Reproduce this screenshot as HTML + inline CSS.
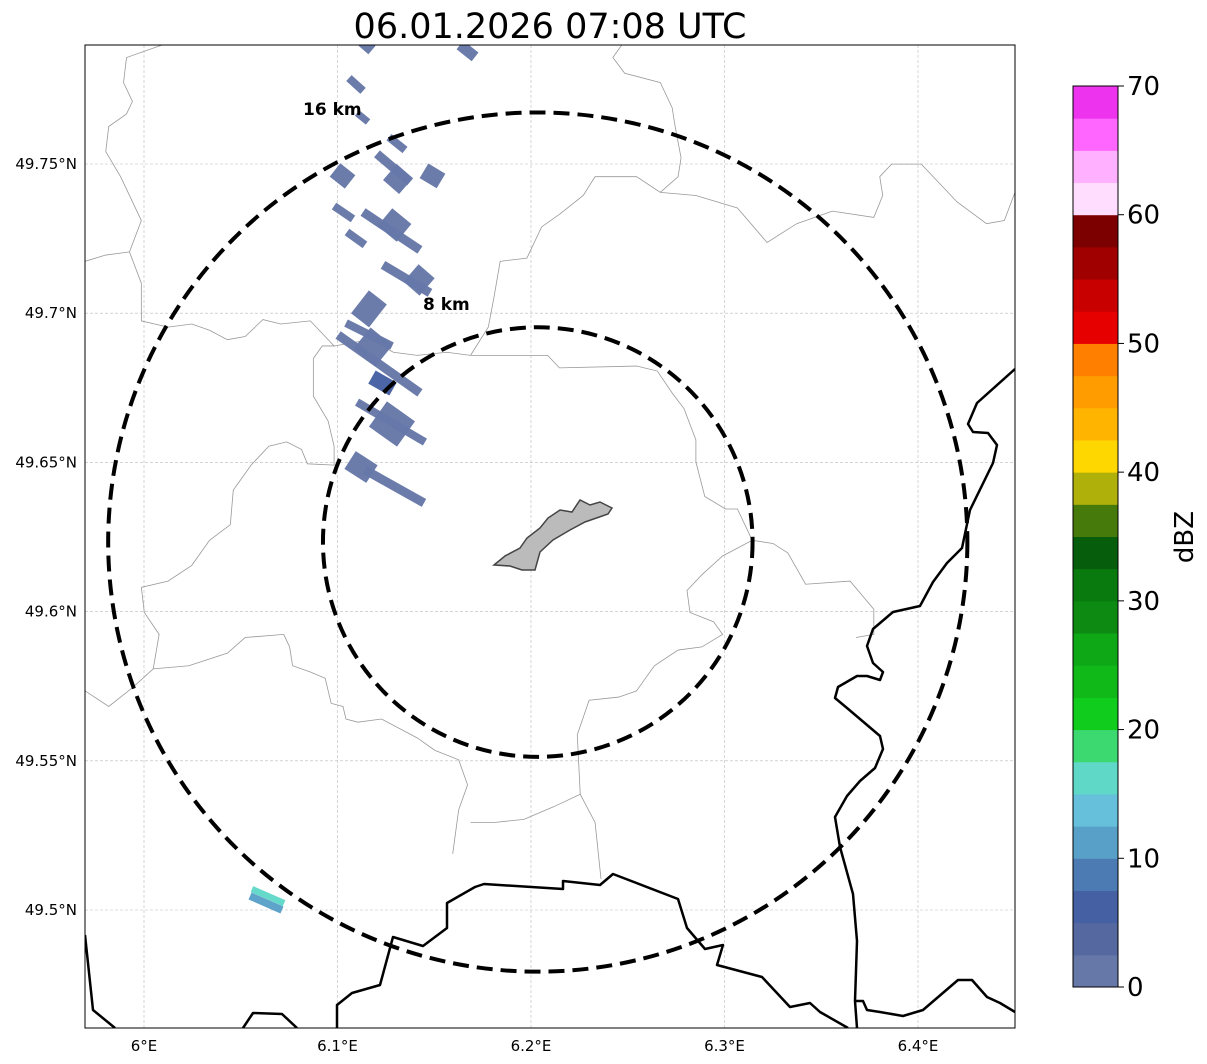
<!DOCTYPE html>
<html><head><meta charset="utf-8"><style>
html,body{margin:0;padding:0;background:#fff;width:1207px;height:1064px;overflow:hidden}
svg text{font-family:"DejaVu Sans","Liberation Sans",sans-serif}
</style></head><body>
<svg id="chart" width="1207" height="1064" xmlns="http://www.w3.org/2000/svg">
<text x="550" y="38" font-size="35" text-anchor="middle">06.01.2026 07:08 UTC</text>
<defs><clipPath id="mapclip"><rect x="85" y="45" width="930" height="983"/></clipPath></defs>
<g id="grid"></g>
<g clip-path="url(#mapclip)">
<g transform="translate(85,45) scale(0.5931,0.627)" fill="none" stroke="#999" stroke-width="0.8">
<path vector-effect="non-scaling-stroke" d="M130,0 L70,20 L65,60 L80,90 L70,110 L40,130 L35,170 L60,210 L95,280 L75,330 L35,335 L0,345"/>
<path vector-effect="non-scaling-stroke" d="M75,330 L95,380 L95,440 L140,450 L180,445 L210,455 L240,470 L270,465 L300,438 L330,445 L380,440 L420,480 L400,480 L385,500 L385,560 L410,600 L420,640 L420,670 L375,668 L365,645 L340,633 L310,640 L280,670 L250,710 L245,765 L210,790 L180,830 L140,855 L95,865 L100,905 L125,940 L115,995 L80,1025 L40,1055 L0,1030"/>
<path vector-effect="non-scaling-stroke" d="M115,995 L175,990 L240,970 L270,945 L335,940 L345,960 L350,990 L380,1000 L405,1010 L415,1050 L435,1055 L440,1075 L460,1080 L500,1075 L560,1105 L590,1125 L630,1140 L645,1180 L630,1220 L620,1290"/>
<path vector-effect="non-scaling-stroke" d="M650,1240 L690,1240 L740,1235 L790,1215 L835,1195 L860,1240 L870,1330"/>
<path vector-effect="non-scaling-stroke" d="M835,1195 L830,1100 L850,1045 L900,1040 L930,1030 L960,990 L1000,965 L1040,960 L1075,940 L1060,920 L1020,905 L1015,870 L1040,845 L1075,815 L1125,790 L1160,795 L1185,810 L1215,860 L1290,855 L1330,900 L1330,940 L1300,945"/>
<path vector-effect="non-scaling-stroke" d="M1125,790 L1100,740 L1080,740 L1045,720 L1030,665 L1030,630 L1010,580 L990,555 L965,520 L930,512 L800,515 L780,495 L740,495 L650,495 L610,490 L560,495 L520,490 L480,470 L420,480"/>
<path vector-effect="non-scaling-stroke" d="M650,495 L680,450 L690,400 L700,345 L745,340 L770,290 L800,270 L840,240 L860,210 L930,210 L970,235 L1030,240 L1100,260 L1150,315 L1200,285 L1260,265 L1330,275 L1345,240 L1340,210 L1360,190 L1410,190 L1470,250 L1520,285 L1550,280 L1568,235"/>
<path vector-effect="non-scaling-stroke" d="M970,235 L1000,210 L1005,180 L995,130 L990,100 L970,60 L910,45 L890,20 L905,0"/>
</g>
</g>
<g clip-path="url(#mapclip)" fill="none" stroke="#000" stroke-width="2.5" stroke-linejoin="round">
<path d="M85,935 L93,1010 L115,1028"/>
<path d="M243,1028 L253,1013 L282,1014 L297,1028"/>
<path d="M337,1028 L337,1005 L352,993 L380,985 L393,937 L423,946 L447,928 L447,903 L475,887 L484,884 L563,889 L563,881 L600,885 L613,874 L678,899 L687,928 L705,949 L723,945 L717,965 L762,977 L790,1007 L810,1003 L820,1012 L848,1028"/>
<path d="M1015,369 L977,403 L968,424 L973,432 L988,433 L997,445 L993,463 L970,510 L962,548 L947,563 L933,582 L920,606 L893,612 L873,629 L867,646 L873,663 L883,672 L880,680 L867,676 L857,676 L838,687 L835,698 L847,708 L880,736 L883,749 L875,768 L860,781 L847,796 L835,817 L840,847 L853,894 L857,941 L855,1001 L857,1028"/>
<path d="M855,1001 L863,1001 L867,1010 L880,1012 L903,1016 L923,1010 L958,980 L972,980 L987,997 L1000,1003 L1015,1012"/>
</g>
<g id="cells" clip-path="url(#mapclip)"></g>
<path d="M494,565 L505,556 L520,548 L527,538 L540,528 L548,518 L560,510 L572,512 L580,500 L590,505 L600,502 L612,508 L608,514 L585,522 L570,530 L553,540 L540,552 L535,570 L522,570 L510,566 Z" fill="#bbb" stroke="#444" stroke-width="1.5"/>
<g id="rings"></g>
<text x="303" y="115" font-size="17" font-weight="bold">16 km</text>
<text x="423" y="310" font-size="17" font-weight="bold">8 km</text>
<rect x="85" y="45" width="930" height="983" fill="none" stroke="#000" stroke-width="1"/>
<g id="axes"></g>
<g id="cbar"></g>
<text transform="translate(1193,537) rotate(-90)" font-size="26" text-anchor="middle">dBZ</text>
</svg>
<script>
const lonTicks=[6.0,6.1,6.2,6.3,6.4];
const lonTickLabels=["6°E","6.1°E","6.2°E","6.3°E","6.4°E"];
const latTicks=[49.75,49.7,49.65,49.6,49.55,49.5];
const latTickLabels=["49.75°N","49.7°N","49.65°N","49.6°N","49.55°N","49.5°N"];
const cellLon1=[6.1106,6.1633,6.1059,6.1101,6.1266,6.0987,6.1204,6.1271,6.1447,6.0982,6.1132,6.1245,6.1049,6.1235,6.1380,6.1116,6.1044,6.1003,6.1127,6.1178,6.1101,6.1209,6.1065,6.1142,6.0558,6.0548];
const cellLat1=[49.7922,49.7899,49.7788,49.7671,49.7590,49.7480,49.7534,49.7473,49.7477,49.7359,49.7339,49.7322,49.7272,49.7162,49.7135,49.7038,49.6967,49.6927,49.6917,49.6786,49.6702,49.6662,49.6508,49.6475,49.5070,49.5047];
const cellLon2=[6.1178,6.1711,6.1132,6.1158,6.1349,6.1065,6.1375,6.1354,6.1535,6.1080,6.1426,6.1344,6.1142,6.1478,6.1463,6.1209,6.1282,6.1426,6.1240,6.1287,6.1452,6.1354,6.1178,6.1447,6.0724,6.0713];
const cellLat2=[49.7882,49.7859,49.7745,49.7641,49.7547,49.7440,49.7440,49.7426,49.7443,49.7316,49.7212,49.7269,49.7229,49.7068,49.7088,49.6991,49.6890,49.6733,49.6857,49.6746,49.6568,49.6595,49.6461,49.6364,49.5023,49.5000];
const cellWidthKm=[0.55,0.55,0.4,0.35,0.4,0.85,0.45,1.05,0.85,0.4,0.45,1.15,0.4,0.45,1.15,1.45,0.4,0.45,1.35,0.75,0.4,1.55,1.05,0.45,0.32,0.38];
const cellDbz=[1,1,1,1,1,1,1,1,1,1,1,1,1,1,1,1,1,1,1,6,1,1,1,1,16,11];
const ringRadiiKm=[16,8];
const cbarTicks=[0,10,20,30,40,50,60,70];
const cbarColors=["#6678a8","#5568a0","#4560a3","#4b7bb2","#59a0c8","#66c0dc","#60d8c8","#3cd870","#10cc1c","#10b818","#0ea816","#0c8a12","#087a0e","#065e0c","#467a0a","#b0b00a","#ffd700","#ffb400","#ff9c00","#ff7f00","#e60000","#c80000","#a00000","#7d0000","#ffddff","#ffb0ff","#ff66ff","#ee33ee"];

const NS="http://www.w3.org/2000/svg";
const X=lon=>144+(lon-6)*1935;
const Y=lat=>164-(lat-49.75)*2984;
const KM=km=>km*20;
const center={lon:6.2035,lat:49.6233};
function mk(tag,attrs,parent){const e=document.createElementNS(NS,tag);for(const k in attrs)e.setAttribute(k,attrs[k]);parent.appendChild(e);return e;}
const grid=document.getElementById('grid'),axes=document.getElementById('axes');
lonTicks.forEach((v,i)=>{
  const l=mk('line',{x1:X(v),x2:X(v),y1:45,y2:1028,stroke:'#bbb','stroke-width':0.6,'stroke-dasharray':'3,2'},grid);
  
  
  const t=mk('text',{x:X(v),y:1051,'font-size':15,'text-anchor':'middle'},axes);t.textContent=lonTickLabels[i];
  
  
});
latTicks.forEach((v,i)=>{
  const l=mk('line',{x1:85,x2:1015,y1:Y(v),y2:Y(v),stroke:'#bbb','stroke-width':0.6,'stroke-dasharray':'3,2'},grid);
  
  
  const t=mk('text',{x:77,y:Y(v)+5,'font-size':15,'text-anchor':'end'},axes);t.textContent=latTickLabels[i];
  
  
});
const cells=document.getElementById('cells');
function colorFor(d){return cbarColors[Math.max(0,Math.min(27,Math.floor(d/2.5)))];}
cellLon1.forEach((v,i)=>{
  const c=mk('line',{x1:X(v),y1:Y(cellLat1[i]),x2:X(cellLon2[i]),y2:Y(cellLat2[i]),stroke:colorFor(cellDbz[i]),'stroke-width':KM(cellWidthKm[i]),'stroke-opacity':0.97},cells);
  
  
});
const rings=document.getElementById('rings');
ringRadiiKm.forEach(r=>{
  const c=mk('circle',{cx:X(center.lon),cy:Y(center.lat),r:r*26.85,fill:'none',stroke:'#000','stroke-width':4,'stroke-dasharray':'16,8'},rings);
  
  
});
const cbar=document.getElementById('cbar');
const CY=v=>987-(v/70)*901;
cbarColors.forEach((col,i)=>{
  const r=mk('rect',{x:1073,y:CY((i+1)*2.5),width:45,height:CY(i*2.5)-CY((i+1)*2.5)+0.5,fill:col},cbar);
  
  
});
mk('rect',{x:1073,y:CY(70),width:45,height:CY(0)-CY(70),fill:'none',stroke:'#000','stroke-width':1},cbar);
cbarTicks.forEach(v=>{
  mk('line',{x1:1118,x2:1124,y1:CY(v),y2:CY(v),stroke:'#000','stroke-width':1},cbar);
  const t=mk('text',{x:1127,y:CY(v)+9,'font-size':26},cbar);t.textContent=v;
  
  
});
</script>
</body></html>
